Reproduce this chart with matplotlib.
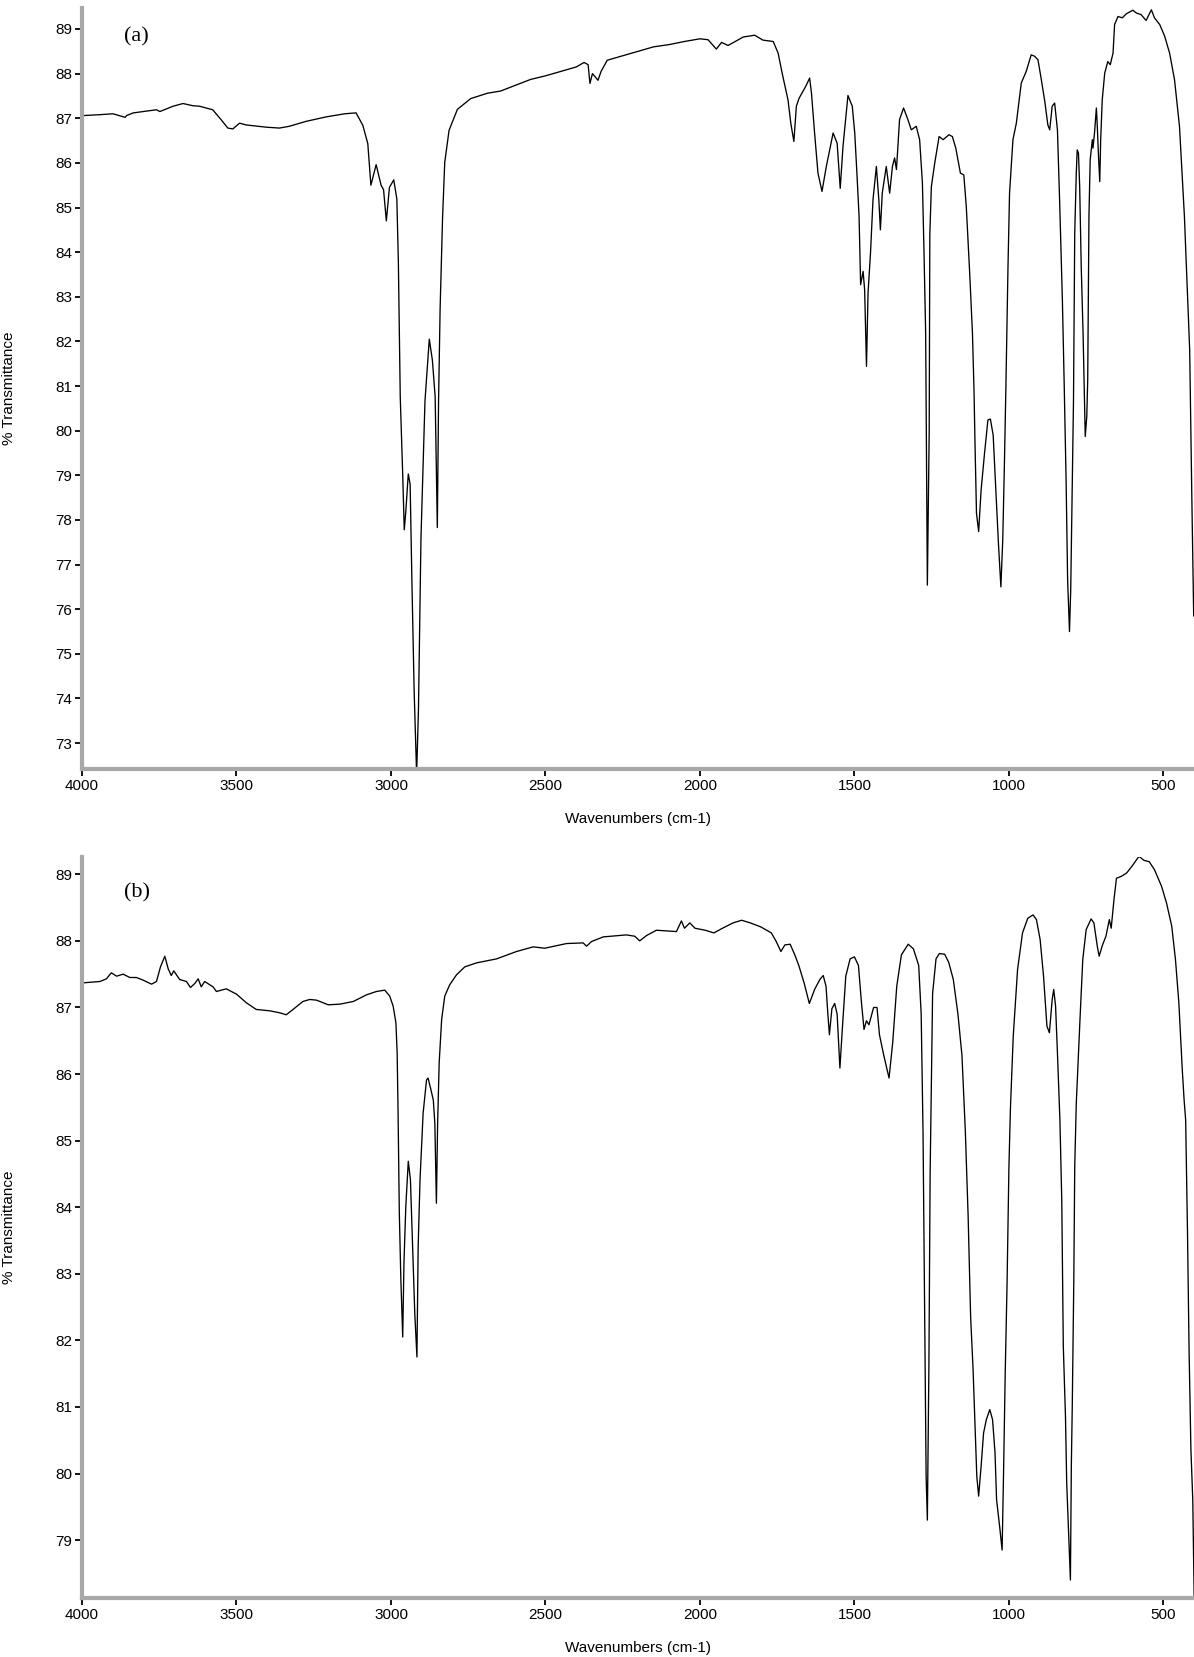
import matplotlib.pyplot as plt
from matplotlib.ticker import MultipleLocator

# spectrum (a): wavenumber (cm-1) and %T
wavenumber_a = [3996, 3942, 3900, 3860, 3856, 3834, 3759, 3748, 3705, 3673, 3641, 3620, 3577, 3550,
                3528, 3512, 3490, 3469, 3404, 3361, 3329, 3275, 3210, 3150, 3113, 3091, 3075, 3065,
                3048, 3032, 3024, 3015, 3005, 2991, 2981, 2976, 2970, 2962, 2957, 2952, 2944, 2938,
                2932, 2925, 2917, 2911, 2903, 2890, 2876, 2866, 2857, 2850, 2846, 2841, 2833, 2826,
                2812, 2785, 2742, 2688, 2645, 2548, 2500, 2450, 2400, 2375, 2362, 2356, 2348, 2338,
                2330, 2320, 2300, 2250, 2200, 2150, 2100, 2050, 2000, 1974, 1947, 1930, 1909, 1860,
                1823, 1796, 1763, 1747, 1733, 1715, 1706, 1696, 1688, 1679, 1658, 1645, 1639, 1629,
                1618, 1605, 1591, 1569, 1556, 1546, 1537, 1521, 1507, 1499, 1492, 1485, 1480, 1472,
                1467, 1461, 1456, 1448, 1440, 1429, 1421, 1416, 1410, 1397, 1386, 1377, 1370, 1364,
                1354, 1341, 1327, 1316, 1300, 1289, 1280, 1275, 1269.5, 1264, 1258, 1256, 1251, 1240,
                1226, 1213, 1194, 1183, 1172, 1157, 1146, 1138, 1127, 1118, 1113, 1110, 1105, 1098,
                1090, 1079, 1068, 1060, 1051, 1043, 1034, 1026, 1020, 1015, 1010, 1003, 998, 987,
                976, 960, 944, 928, 917, 906, 895, 884, 874, 868, 860, 852, 843, 836, 827, 821, 815,
                810, 804, 800, 796, 791, 787, 782, 779, 775, 771, 766, 760, 756, 753, 748, 745, 741,
                737, 730, 728, 723, 717, 714, 710, 706, 703, 698, 690, 680, 672, 663, 658, 647, 633,
                620, 599, 588, 572, 556, 539, 529, 512, 496, 480, 464, 448, 432, 415, 408, 402]
transmittance_a = [87.06, 87.08, 87.10, 87.02, 87.06, 87.12, 87.19, 87.15, 87.27, 87.33, 87.28, 87.27,
                   87.19, 86.97, 86.78, 86.76, 86.89, 86.85, 86.80, 86.78, 86.82, 86.93, 87.03, 87.10,
                   87.12, 86.84, 86.43, 85.50, 85.96, 85.50, 85.40, 84.70, 85.45, 85.62, 85.19, 83.75,
                   80.76, 79.01, 77.78, 78.19, 79.03, 78.80, 76.54, 74.17, 72.30, 73.76, 77.57, 80.66,
                   82.05, 81.58, 80.76, 77.83, 80.66, 82.72, 84.78, 86.01, 86.73, 87.20, 87.44, 87.56,
                   87.61, 87.87, 87.95, 88.05, 88.15, 88.25, 88.20, 87.78, 88.00, 87.92, 87.85, 88.05,
                   88.30, 88.40, 88.50, 88.60, 88.65, 88.72, 88.78, 88.76, 88.55, 88.70, 88.63, 88.82,
                   88.86, 88.75, 88.72, 88.46, 87.98, 87.41, 86.89, 86.48, 87.27, 87.45, 87.71, 87.90,
                   87.56, 86.67, 85.77, 85.36, 85.92, 86.67, 86.44, 85.43, 86.37, 87.51, 87.27, 86.67,
                   85.77, 84.80, 83.27, 83.57, 83.16, 81.44, 83.08, 83.98, 85.17, 85.92, 85.17, 84.50,
                   85.32, 85.92, 85.32, 85.92, 86.11, 85.85, 86.97, 87.23, 86.97, 86.74, 86.82, 86.52,
                   85.55, 84.05, 82.18, 76.54, 80.00, 84.40, 85.47, 86.00, 86.59, 86.52, 86.63, 86.59,
                   86.33, 85.77, 85.73, 85.02, 83.53, 82.18, 80.90, 79.79, 78.15, 77.74, 78.67, 79.49,
                   80.24, 80.26, 79.90, 78.75, 77.48, 76.50, 77.55, 79.12, 80.90, 83.68, 85.32, 86.52,
                   86.89, 87.79, 88.05, 88.42, 88.39, 88.31, 87.86, 87.38, 86.85, 86.74, 87.27, 87.34,
                   86.74, 85.17, 82.93, 81.00, 78.90, 76.65, 75.50, 76.43, 78.33, 80.69, 84.43, 85.77,
                   86.29, 86.22, 85.47, 83.68, 82.18, 80.90, 79.87, 80.32, 81.14, 84.80, 86.07, 86.52,
                   86.33, 86.67, 87.23, 86.82, 86.14, 85.58, 86.52, 87.41, 88.01, 88.27, 88.20, 88.46,
                   89.10, 89.28, 89.25, 89.34, 89.42, 89.36, 89.32, 89.19, 89.43, 89.25, 89.10, 88.84,
                   88.46, 87.86, 86.82, 84.80, 81.81, 78.50, 75.85]

# spectrum (b)
wavenumber_b = [3996, 3942, 3921, 3905, 3888, 3867, 3845, 3824, 3802, 3775, 3759, 3746, 3732, 3721,
                3711, 3703, 3684, 3662, 3649, 3635, 3624, 3614, 3603, 3576, 3565, 3533, 3500, 3468,
                3436, 3393, 3360, 3339, 3317, 3285, 3263, 3241, 3203, 3165, 3122, 3079, 3047, 3020,
                3004, 2993, 2984, 2980, 2977, 2973, 2968, 2962, 2958, 2952, 2944, 2937, 2930, 2923,
                2916, 2912, 2906, 2896, 2885, 2880, 2872, 2863, 2858, 2853, 2849, 2844, 2836, 2826,
                2810, 2788, 2761, 2723, 2658, 2594, 2540, 2502, 2432, 2378, 2367, 2351, 2313, 2238,
                2211, 2195, 2173, 2141, 2076, 2060, 2050, 2033, 2016, 1983, 1955, 1927, 1893, 1865,
                1837, 1803, 1769, 1753, 1738, 1725, 1708, 1693, 1680, 1663, 1646, 1629, 1612, 1601,
                1592, 1586, 1581, 1573, 1564, 1556, 1547, 1539, 1528, 1514, 1500, 1487, 1478, 1469,
                1461, 1453, 1438, 1427, 1419, 1405, 1388, 1376, 1363, 1348, 1326, 1309, 1292, 1284,
                1278, 1273, 1268, 1264, 1259, 1255, 1247, 1236, 1225, 1208, 1195, 1180, 1165, 1152,
                1141, 1132, 1124, 1116, 1109, 1104, 1098, 1090, 1082, 1073, 1062, 1053, 1045, 1040,
                1030, 1022, 1017, 1012, 1006, 1000, 995, 986, 972, 956, 939, 922, 911, 899, 888, 877,
                869, 860, 855, 849, 843, 835, 829, 824, 817, 813, 806, 801, 798, 795, 790, 787, 782,
                770, 761, 750, 734, 725, 714, 708, 697, 686, 675, 669, 660, 652, 636, 619, 602, 579,
                563, 546, 529, 506, 490, 473, 461, 450, 439, 433, 428, 422, 417, 411, 405, 402, 400]
transmittance_b = [87.37, 87.39, 87.43, 87.52, 87.47, 87.50, 87.45, 87.45, 87.41, 87.35, 87.39, 87.61,
                   87.77, 87.58, 87.48, 87.55, 87.42, 87.39, 87.30, 87.36, 87.43, 87.31, 87.39, 87.31,
                   87.24, 87.28, 87.20, 87.07, 86.97, 86.95, 86.92, 86.89, 86.97, 87.09, 87.12, 87.11,
                   87.04, 87.05, 87.09, 87.19, 87.24, 87.26, 87.17, 87.02, 86.77, 86.32, 85.41, 83.91,
                   82.91, 82.05, 83.16, 84.01, 84.69, 84.41, 83.41, 82.41, 81.75, 83.41, 84.41, 85.41,
                   85.91, 85.94, 85.79, 85.61, 85.26, 84.06, 85.26, 86.17, 86.82, 87.17, 87.34, 87.49,
                   87.61, 87.67, 87.73, 87.84, 87.91, 87.89, 87.96, 87.97, 87.92, 87.99, 88.06, 88.09,
                   88.07, 88.00, 88.08, 88.16, 88.14, 88.30, 88.19, 88.27, 88.19, 88.16, 88.12, 88.19,
                   88.27, 88.31, 88.27, 88.21, 88.12, 87.99, 87.84, 87.94, 87.95, 87.79, 87.63, 87.37,
                   87.06, 87.27, 87.42, 87.48, 87.32, 86.90, 86.59, 86.98, 87.06, 86.90, 86.09, 86.69,
                   87.47, 87.73, 87.76, 87.63, 87.11, 86.67, 86.80, 86.74, 87.00, 87.00, 86.59, 86.28,
                   85.94, 86.48, 87.32, 87.79, 87.95, 87.88, 87.63, 86.90, 85.13, 82.61, 79.96, 79.30,
                   81.61, 84.51, 87.21, 87.73, 87.81, 87.80, 87.68, 87.42, 86.90, 86.28, 85.13, 83.86,
                   82.36, 81.56, 80.61, 79.96, 79.66, 80.11, 80.61, 80.81, 80.96, 80.81, 80.31, 79.61,
                   79.20, 78.85, 80.11, 81.51, 82.86, 84.61, 85.50, 86.57, 87.57, 88.12, 88.34, 88.39,
                   88.32, 88.02, 87.47, 86.72, 86.62, 87.12, 87.27, 87.02, 86.32, 85.31, 84.11, 81.91,
                   80.86, 79.86, 79.00, 78.40, 80.11, 81.01, 82.91, 84.61, 85.56, 86.82, 87.72, 88.17,
                   88.33, 88.27, 87.92, 87.77, 87.94, 88.07, 88.32, 88.19, 88.62, 88.94, 88.97, 89.02,
                   89.12, 89.27, 89.21, 89.19, 89.07, 88.82, 88.57, 88.22, 87.72, 87.07, 86.07, 85.61,
                   85.31, 83.61, 81.86, 80.36, 79.61, 78.60, 78.00]

panels = [
    ("(a)", wavenumber_a, transmittance_a, (72.42, 89.47)),
    ("(b)", wavenumber_b, transmittance_b, (78.13, 89.26)),
]

W, H = 1194, 1657
fig = plt.figure(figsize=(W / 100, H / 100), dpi=100)
# axes boxes in pixels: left, top, right, bottom
boxes = [(82, 8, 1194, 769), (82, 857, 1194, 1598)]
tag_y = [0.9615, 0.951]

font = "Liberation Sans"
for (tag, wn, tr, ylim), (l, t, r, b), ty in zip(panels, boxes, tag_y):
    ax = fig.add_axes([l / W, 1 - b / H, (r - l) / W, (b - t) / H])
    ax.plot(wn, tr, color="black", lw=0.95)
    ax.set_xlim(4000, 401)
    ax.set_ylim(*ylim)
    ax.xaxis.set_major_locator(MultipleLocator(500))
    ax.xaxis.set_minor_locator(MultipleLocator(100))
    ax.yaxis.set_major_locator(MultipleLocator(1))
    ax.yaxis.set_minor_locator(MultipleLocator(0.2))
    for s in ["top", "right"]:
        ax.spines[s].set_visible(False)
    for s in ["left", "bottom"]:
        ax.spines[s].set_color("#a8a8a8")
        ax.spines[s].set_linewidth(3)
    ax.tick_params(which="major", direction="out", length=5, width=1.3, color="black",
                   labelsize=11, pad=2)
    ax.tick_params(which="minor", direction="inout", length=3, width=1.5, color="black")
    for lab in ax.get_xticklabels() + ax.get_yticklabels():
        lab.set_family(font)
    ax.set_xlabel("Wavenumbers (cm-1)", fontsize=11, family=font, labelpad=14)
    fig.text(9 / W, 1 - (t + b) / 2 / H, "% Transmittance", rotation=90, fontsize=11,
             family=font, ha="center", va="center")
    ax.text(0.038, ty, tag, transform=ax.transAxes,
            family="Liberation Serif", fontsize=16, ha="left", va="center")

fig.savefig("out.png", dpi=100)
